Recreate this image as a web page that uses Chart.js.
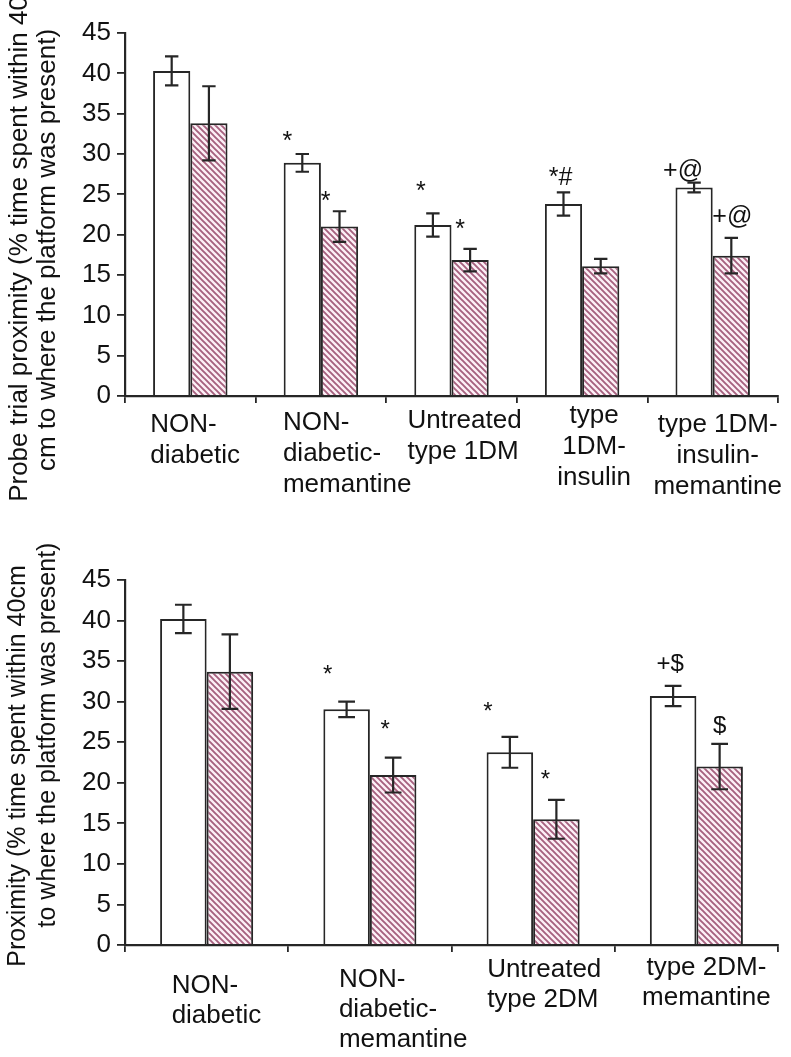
<!DOCTYPE html>
<html>
<head>
<meta charset="utf-8">
<script src="https://cdn.jsdelivr.net/npm/chart.js@4.4.1/dist/chart.umd.min.js"></script>
<style>
  body { margin: 0; background: #fff; }
  canvas { display: block; }
</style>
</head>
<body>
<canvas id="chartTop" width="791" height="520"></canvas>
<canvas id="chartBottom" width="791" height="537"></canvas>
<script>
// ---- data ----
let yMin = 0;
let yMax = 45;
let yStep = 5;

let topCategories = [["NON-", "diabetic"], ["NON-", "diabetic-", "memantine"], ["Untreated", "type 1DM"], ["type", "1DM-", "insulin"], ["type 1DM-", "insulin-", "memantine"]];
let topOpen = [40.3, 28.9, 21.2, 23.8, 25.85];
let topOpenErr = [1.8, 1.1, 1.45, 1.45, 0.6];
let topHatched = [33.8, 21.0, 16.85, 16.1, 17.4];
let topHatchedErr = [4.6, 1.9, 1.4, 0.9, 2.2];
let topOpenMarks = ["", "*", "*", "*#", "+@"];
let topOpenMarkAt = [null, 30.6, 24.4, 26.2, 27.0];
let topHatchedMarks = ["", "*", "*", "", "+@"];
let topHatchedMarkAt = [null, 23.2, 19.7, null, 21.3];
let topTitle = ["Probe trial proximity (% time spent within 40", "cm to where the platform was present)"];

let bottomCategories = [["NON-", "diabetic"], ["NON-", "diabetic-", "memantine"], ["Untreated", "type 2DM"], ["type 2DM-", "memantine"]];
let bottomOpen = [40.2, 29.05, 23.75, 30.7];
let bottomOpenErr = [1.75, 0.95, 1.9, 1.25];
let bottomHatched = [33.7, 20.95, 15.5, 22.0];
let bottomHatchedErr = [4.6, 2.15, 2.4, 2.8];
let bottomOpenMarks = ["", "*", "*", "+$"];
let bottomOpenMarkAt = [null, 32.4, 27.9, 33.8];
let bottomHatchedMarks = ["", "*", "*", "$"];
let bottomHatchedMarkAt = [null, 25.6, 19.5, 26.1];
let bottomTitle = ["Proximity (% time spent within 40cm", "to where the platform was present)"];

// ---- look ----
let FONT = "'Liberation Sans', Arial, sans-serif";
let INK = "#262626";

function makeHatch() {
  let c = document.createElement("canvas");
  c.width = 6; c.height = 6;
  let g = c.getContext("2d");
  g.fillStyle = "#fcf0f6";
  g.fillRect(0, 0, 6, 6);
  g.strokeStyle = "#a6617f";
  g.lineWidth = 1.9;
  g.beginPath();
  g.moveTo(-1, -1); g.lineTo(7, 7);
  g.moveTo(-1, 5); g.lineTo(1, 7);
  g.moveTo(5, -1); g.lineTo(7, 1);
  g.stroke();
  return g.createPattern(c, "repeat");
}

const errorBars = {
  id: "errorBars",
  afterDatasetsDraw(chart) {
    let ctx = chart.ctx, y = chart.scales.y;
    chart.data.datasets.forEach((ds, i) => {
      chart.getDatasetMeta(i).data.forEach((bar, j) => {
        let v = ds.data[j], e = ds.errors[j];
        let t = y.getPixelForValue(v + e), b = y.getPixelForValue(v - e);
        let half = bar.width * 0.18;
        ctx.save();
        ctx.strokeStyle = INK;
        ctx.lineWidth = 2.2;
        ctx.beginPath();
        ctx.moveTo(bar.x, t); ctx.lineTo(bar.x, b);
        ctx.moveTo(bar.x - half, t); ctx.lineTo(bar.x + half, t);
        ctx.moveTo(bar.x - half, b); ctx.lineTo(bar.x + half, b);
        ctx.stroke();
        ctx.restore();
      });
    });
  }
};

const marks = {
  id: "marks",
  afterDatasetsDraw(chart, args, opts) {
    let ctx = chart.ctx, y = chart.scales.y;
    ctx.save();
    ctx.fillStyle = "#111";
    ctx.font = opts.size + "px " + FONT;
    ctx.textAlign = "center";
    ctx.textBaseline = "alphabetic";
    chart.data.datasets.forEach((ds, i) => {
      chart.getDatasetMeta(i).data.forEach((bar, j) => {
        if (!ds.marks[j]) return;
        ctx.fillText(ds.marks[j], bar.x + opts.shift[i][j], y.getPixelForValue(ds.markAt[j]));
      });
    });
    ctx.restore();
  }
};

const catLabels = {
  id: "catLabels",
  afterDraw(chart, args, opts) {
    let ctx = chart.ctx, x = chart.scales.x;
    ctx.save();
    ctx.fillStyle = "#111";
    ctx.font = opts.size + "px " + FONT;
    ctx.textBaseline = "alphabetic";
    chart.data.labels.forEach((lines, i) => {
      ctx.textAlign = opts.align[i];
      let px = x.getPixelForTick(i) + opts.shift[i];
      lines.forEach((line, k) => {
        ctx.fillText(line, px, x.top + opts.drop[i] + k * opts.lineHeight);
      });
    });
    ctx.restore();
  }
};

const yTitle = {
  id: "yTitle",
  afterDraw(chart, args, opts) {
    let ctx = chart.ctx;
    ctx.save();
    ctx.fillStyle = "#111";
    ctx.font = opts.size + "px " + FONT;
    ctx.textAlign = "center";
    ctx.textBaseline = "alphabetic";
    opts.lines.forEach((line, k) => {
      ctx.save();
      ctx.translate(opts.baseX[k], opts.centerY[k]);
      ctx.rotate(-Math.PI / 2);
      ctx.fillText(line, 0, 0);
      ctx.restore();
    });
    ctx.restore();
  }
};

function makeChart(id, cfg) {
  let hatch = makeHatch();
  return new Chart(document.getElementById(id), {
    type: "bar",
    data: {
      labels: cfg.labels,
      datasets: [
        { label: "Series 1", data: cfg.open, errors: cfg.openErr, marks: cfg.openMarks, markAt: cfg.openMarkAt,
          backgroundColor: "#ffffff", borderColor: INK, borderWidth: 2 },
        { label: "Series 2", data: cfg.hatched, errors: cfg.hatchedErr, marks: cfg.hatchedMarks, markAt: cfg.hatchedMarkAt,
          backgroundColor: hatch, borderColor: INK, borderWidth: 2 }
      ]
    },
    options: {
      responsive: false,
      animation: false,
      layout: { padding: { top: cfg.padTop, right: 13, bottom: 0, left: 0 } },
      datasets: { bar: { categoryPercentage: 0.57, barPercentage: 1.0 } },
      plugins: {
        legend: { display: false },
        tooltip: { enabled: false },
        marks: { size: cfg.markSize, shift: cfg.markShift },
        catLabels: { size: 26, align: cfg.labelAlign, shift: cfg.labelShift, drop: cfg.labelDrop, lineHeight: cfg.lineHeight },
        yTitle: { size: cfg.titleSize, lines: cfg.title, baseX: cfg.titleX, centerY: cfg.titleY }
      },
      scales: {
        x: {
          grid: { display: true, drawOnChartArea: false, drawTicks: true, tickLength: 7, color: INK, lineWidth: 1.8, offset: true },
          border: { display: true, color: INK, width: 2.2 },
          ticks: { display: false },
          afterFit(s) { s.height = cfg.xHeight; }
        },
        y: {
          min: yMin,
          max: yMax,
          grid: { display: true, drawOnChartArea: false, drawTicks: true, tickLength: 8, color: INK, lineWidth: 1.8 },
          border: { display: true, color: INK, width: 2.2 },
          ticks: { stepSize: yStep, color: "#111", padding: 6, font: { family: FONT, size: 26 } },
          afterFit(s) { s.width = 125; }
        }
      }
    },
    plugins: [errorBars, marks, catLabels, yTitle]
  });
}

makeChart("chartTop", {
  labels: topCategories,
  open: topOpen, openErr: topOpenErr, openMarks: topOpenMarks, openMarkAt: topOpenMarkAt,
  hatched: topHatched, hatchedErr: topHatchedErr, hatchedMarks: topHatchedMarks, hatchedMarkAt: topHatchedMarkAt,
  padTop: 33, xHeight: 124,
  markSize: 25, markShift: [[0, -15, -12, -3, -11], [0, -14, -10, 0, 1]],
  labelAlign: ["left", "left", "left", "center", "center"],
  labelShift: [-40, -38, -44, 12, 5],
  labelDrop: [36, 34, 32, 27, 36],
  lineHeight: 31,
  title: topTitle, titleSize: 26, titleX: [27, 55], titleY: [249, 250]
});

makeChart("chartBottom", {
  labels: bottomCategories,
  open: bottomOpen, openErr: bottomOpenErr, openMarks: bottomOpenMarks, openMarkAt: bottomOpenMarkAt,
  hatched: bottomHatched, hatchedErr: bottomHatchedErr, hatchedMarks: bottomHatchedMarks, hatchedMarkAt: bottomHatchedMarkAt,
  padTop: 60, xHeight: 112,
  markSize: 24, markShift: [[0, -19, -22, -3], [0, -8, -11, 0]],
  labelAlign: ["left", "left", "left", "center"],
  labelShift: [-35, -31, -46, 10],
  labelDrop: [48, 42, 32, 30],
  lineHeight: 30,
  title: bottomTitle, titleSize: 25, titleX: [25, 55], titleY: [246, 215]
});
</script>
</body>
</html>
